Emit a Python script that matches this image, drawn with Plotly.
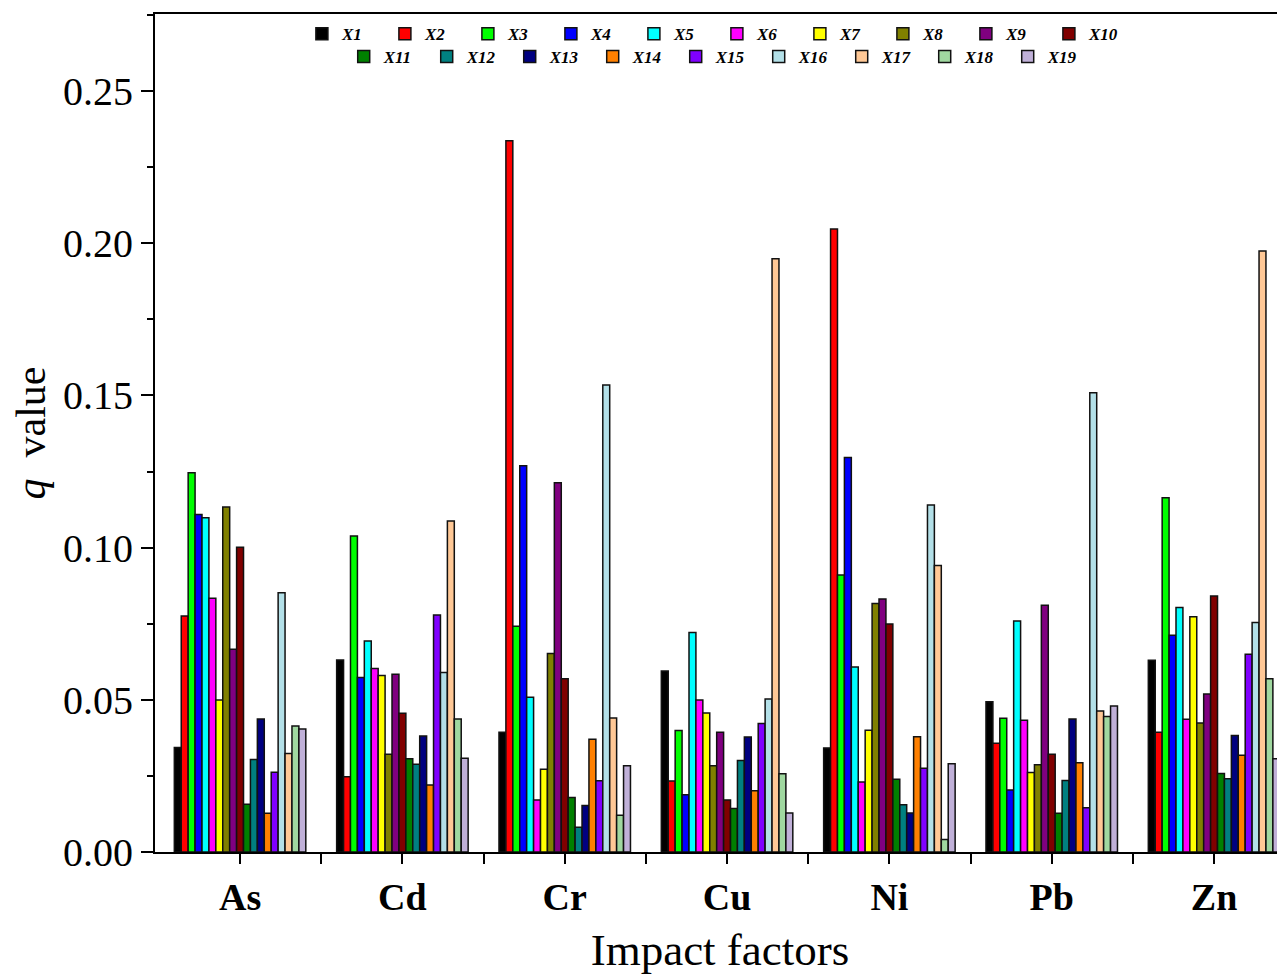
import plotly.graph_objects as go

categories = ["As", "Cd", "Cr", "Cu", "Ni", "Pb", "Zn"]
factor_names = ["X1", "X2", "X3", "X4", "X5", "X6", "X7", "X8", "X9", "X10",
                "X11", "X12", "X13", "X14", "X15", "X16", "X17", "X18", "X19"]
factor_colors = ["#000000", "#ff0000", "#00ff00", "#0000ff", "#00ffff", "#ff00ff",
                 "#ffff00", "#808000", "#800080", "#800000", "#008000", "#008080",
                 "#000080", "#ff8000", "#8000ff", "#b3e0e8", "#ffc896", "#a0d8a0",
                 "#c0b0d8"]

# q values: one list per heavy metal, ordered X1..X19
q_As = [0.0343, 0.0775, 0.1246, 0.1109, 0.1098, 0.0834, 0.0499, 0.1133, 0.0666, 0.1001,
        0.0157, 0.0304, 0.0437, 0.0127, 0.0262, 0.0852, 0.0324, 0.0414, 0.0404]
q_Cd = [0.0631, 0.0247, 0.1038, 0.0573, 0.0693, 0.0603, 0.0580, 0.0321, 0.0584, 0.0456,
        0.0306, 0.0288, 0.0381, 0.0220, 0.0779, 0.0590, 0.1087, 0.0437, 0.0308]
q_Cr = [0.0393, 0.2337, 0.0742, 0.1269, 0.0508, 0.0171, 0.0272, 0.0652, 0.1213, 0.0569,
        0.0179, 0.0081, 0.0153, 0.0370, 0.0234, 0.1534, 0.0440, 0.0121, 0.0283]
q_Cu = [0.0595, 0.0233, 0.0399, 0.0188, 0.0721, 0.0499, 0.0457, 0.0283, 0.0393, 0.0171,
        0.0143, 0.0301, 0.0378, 0.0201, 0.0422, 0.0503, 0.1949, 0.0257, 0.0128]
q_Ni = [0.0342, 0.2047, 0.0910, 0.1296, 0.0608, 0.0230, 0.0400, 0.0816, 0.0831, 0.0749,
        0.0239, 0.0155, 0.0128, 0.0379, 0.0275, 0.1140, 0.0941, 0.0041, 0.0290]
q_Pb = [0.0494, 0.0357, 0.0439, 0.0204, 0.0759, 0.0433, 0.0261, 0.0287, 0.0811, 0.0321,
        0.0127, 0.0235, 0.0437, 0.0293, 0.0145, 0.1509, 0.0463, 0.0445, 0.0480]
q_Zn = [0.0630, 0.0393, 0.1164, 0.0712, 0.0803, 0.0436, 0.0773, 0.0424, 0.0519, 0.0841,
        0.0258, 0.0241, 0.0383, 0.0318, 0.0650, 0.0754, 0.1974, 0.0569, 0.0306]

y_ticks = [0.00, 0.05, 0.10, 0.15, 0.20, 0.25]
y_tick_labels = ["0.00", "0.05", "0.10", "0.15", "0.20", "0.25"]

metal_values = [q_As, q_Cd, q_Cr, q_Cu, q_Ni, q_Pb, q_Zn]
xpos = list(range(len(categories)))

FONT = "Liberation Serif"
fig = go.Figure()
for i, (name, color) in enumerate(zip(factor_names, factor_colors)):
    fig.add_trace(go.Bar(
        x=xpos,
        y=[vals[i] for vals in metal_values],
        name=name,
        marker=dict(color=color, line=dict(color="#111111", width=1.5)),
        legend="legend" if i < 10 else "legend2",
    ))

legend_common = dict(
    orientation="h", xanchor="left", yanchor="middle",
    font=dict(family=FONT, size=17, color="#000000", weight="bold", style="italic"),
    entrywidth=38, entrywidthmode="pixels", itemwidth=30,
    bgcolor="rgba(0,0,0,0)", borderwidth=0, tracegroupgap=0,
    traceorder="normal", itemclick=False, itemdoubleclick=False,
)

fig.update_layout(
    width=1277, height=967,
    margin=dict(l=147, r=0, t=6, b=123),
    paper_bgcolor="white", plot_bgcolor="white",
    barmode="group", bargap=0.19, bargroupgap=0,
    font=dict(family=FONT, color="#000000"),
    legend=dict(x=0.1300, y=0.976, **legend_common),
    legend2=dict(x=0.167, y=0.9487, **legend_common),
    xaxis=dict(
        range=[-0.524, 6.437],
        tickmode="array", tickvals=xpos,
        ticktext=["<b>%s</b>" % c for c in categories],
        tickfont=dict(family=FONT, size=38, color="#000000"),
        ticks="outside", ticklen=10, tickwidth=2, tickcolor="#000000",
        minor=dict(tickmode="array", tickvals=[p + 0.5 for p in xpos[:-1]],
                   ticks="outside", ticklen=10, tickwidth=2, tickcolor="#000000"),
        showline=True, linewidth=2, linecolor="#000000", mirror=True,
        showgrid=False, zeroline=False,
        title=dict(text="Impact factors", font=dict(family=FONT, size=45), standoff=21),
    ),
    yaxis=dict(
        range=[0, 0.2753],
        tickmode="array", tickvals=y_ticks, ticktext=y_tick_labels,
        tickfont=dict(family=FONT, size=40, color="#000000"),
        ticks="outside", ticklen=12, tickwidth=2, tickcolor="#000000",
        minor=dict(dtick=0.025, tick0=0.025, ticks="outside", ticklen=6,
                   tickwidth=2, tickcolor="#000000"),
        showline=True, linewidth=2, linecolor="#000000", mirror=False,
        showgrid=False, zeroline=False,
        title=dict(text="<i>q</i>  value", font=dict(family=FONT, size=42), standoff=6),
    ),
)

fig.write_html("out.html")
